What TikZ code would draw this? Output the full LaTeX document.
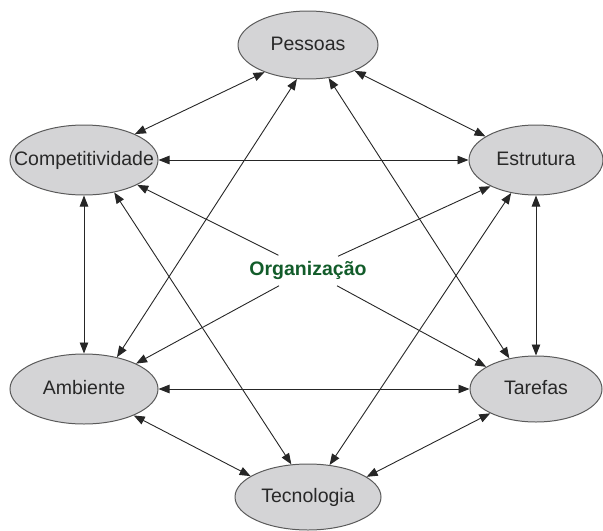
\documentclass[tikz,border=0pt]{standalone}
\usepackage{fontspec}
\setmainfont{Liberation Sans}
\usepackage{tikz}
\usetikzlibrary{shapes,arrows.meta}
\definecolor{elipsecinza}{RGB}{212,212,214}
\definecolor{bordacinza}{RGB}{90,90,90}
\definecolor{verdeorg}{RGB}{18,92,42}
\definecolor{textocinza}{RGB}{40,40,40}
\newcommand{\rot}[1]{\makebox[0pt]{#1}}
\tikzset{
  elip/.style={draw=bordacinza,line width=1pt,fill=elipsecinza,ellipse,inner sep=0pt,
    text=textocinza,text height=14bp,text depth=4bp,font=\fontsize{19.5bp}{23bp}\selectfont},
  seta/.style={line width=0.9pt,draw=black!85,{Triangle[length=11bp,width=8.5bp]}-{Triangle[length=11bp,width=8.5bp]}},
  setaorg/.style={line width=0.9pt,draw=black!85,-{Triangle[length=11bp,width=8.5bp]},shorten <=33bp}
}

\begin{document}
\begin{tikzpicture}
\useasboundingbox (0bp,0bp) rectangle (603bp,-531bp);

\node (P) at (308bp,-45bp)[elip,minimum width=140bp,minimum height=68bp] {\rot{Pessoas}};
\node (C) at (84bp,-160bp)[elip,minimum width=148bp,minimum height=70bp] {\rot{Competitividade}};
\node (E) at (536bp,-160bp)[elip,minimum width=134bp,minimum height=70bp] {\rot{Estrutura}};
\node (A) at (84bp,-389bp)[elip,minimum width=148bp,minimum height=70bp] {\rot{Ambiente}};
\node (T) at (536bp,-389bp)[elip,minimum width=132bp,minimum height=66bp] {\rot{Tarefas}};
\node (K) at (308bp,-497bp)[elip,minimum width=146bp,minimum height=66bp] {\rot{Tecnologia}};
\node (O) at (308bp,-270bp)[text=verdeorg,font=\fontsize{19.5bp}{23bp}\selectfont\bfseries] {Organização};

\draw [seta] (P.212) -- (C.27);
\draw [seta] (P.331) -- (E.155);
\draw [seta] (C.0) -- (E.180);
\draw [seta] (C.270) -- (A.90);
\draw [seta] (E.270) -- (T.90);
\draw [seta] (A.0) -- (T.180);
\draw [seta] (A.332) -- (K.160);
\draw [seta] (T.208) -- (K.19);
\draw [seta] (P.252) -- (A.44);
\draw [seta] (P.302) -- (T.131);
\draw [seta] (C.313) -- (K.117);
\draw [seta] (E.233) -- (K.56);
\draw [setaorg] (O.center) -- (C.335);
\draw [setaorg] (O.center) -- (E.210);
\draw [setaorg] (O.center) -- (A.26);
\draw [setaorg] (O.center) -- (T.156);
\end{tikzpicture}
\end{document}
